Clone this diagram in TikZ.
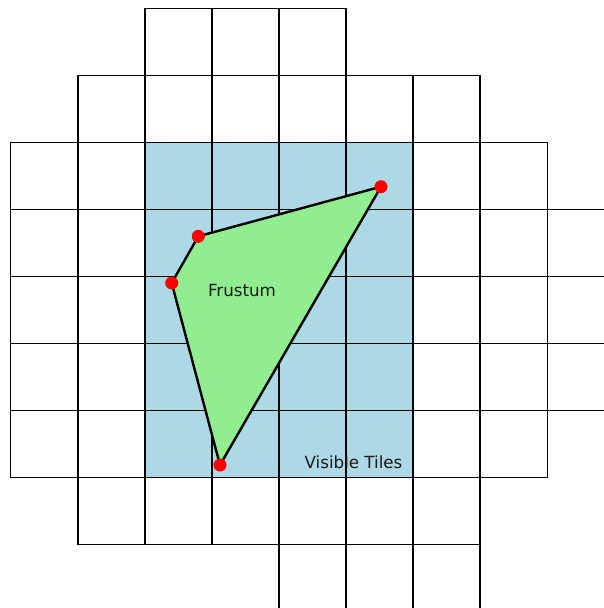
\documentclass[tikz,border=0pt]{standalone}
\usepackage{fontspec}
\setmainfont{DejaVu Sans}
\definecolor{tileblue}{HTML}{ADD8E6}
\definecolor{frustumgreen}{HTML}{90EE90}
\begin{document}
\begin{tikzpicture}[x=1pt,y=-1pt,
  tile/.style={draw=black,line width=1.35pt},
  visiblezone/.style={fill=tileblue},
  frustum/.style={draw=black,fill=frustumgreen,line width=2.4pt,line join=round},
  vertex/.style={circle,fill=red,inner sep=0pt,minimum size=13pt},
  lbl/.style={font=\fontsize{16.7}{20}\selectfont,text=black!90,inner sep=0pt}]
\clip (0,0) rectangle (604,608);
% visible tiles area
\fill[visiblezone] (144.9,142.7) rectangle (413.1,477.7);
% tiles
\foreach \r/\a/\b in {0/2/4,1/1/6,2/0/7,3/0/8,4/0/8,5/0/8,6/0/7,7/1/6,8/4/6}{
  \foreach \c in {\a,...,\b}{
    \draw[tile] ({10.8+67.05*\c},{8.7+67.0*\r}) rectangle ++(67.05,67.0);
  }
}
% frustum corners
\coordinate (p1) at (381,186.7);
\coordinate (p2) at (198.3,236.3);
\coordinate (p3) at (171.7,283);
\coordinate (p4) at (220,465);
\draw[frustum] (p1) -- (p2) -- (p3) -- (p4) -- cycle;
\node[vertex] (v1) at (p1) {};
\node[vertex] (v2) at (p2) {};
\node[vertex] (v3) at (p3) {};
\node[vertex] (v4) at (p4) {};
% labels
\node[lbl] (frustumlabel) at (242,291) {Frustum};
\node[lbl] (visiblelabel) at (353.5,462) {Visible Tiles};
\end{tikzpicture}
\end{document}
